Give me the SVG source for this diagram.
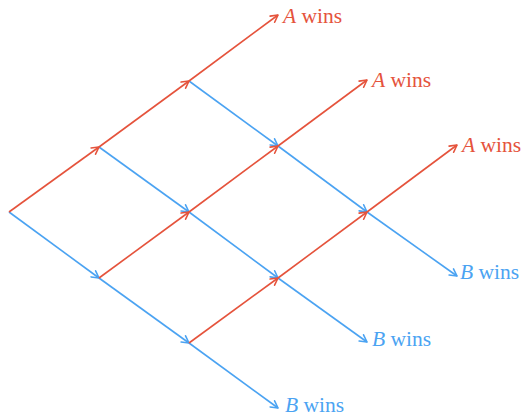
<svg xmlns="http://www.w3.org/2000/svg" width="522" height="416" viewBox="0 0 522 416">
<style>
.r{stroke:#E5533C;stroke-width:1.6;fill:none;marker-end:url(#ar)}
.b{stroke:#4BA3F2;stroke-width:1.6;fill:none;marker-end:url(#ab)}
text{font-family:'Liberation Serif','Times New Roman',serif;font-size:21.5px}
.tr{fill:#E5533C}
.tb{fill:#4BA3F2}
.i{font-style:italic}
</style>
<defs>
<marker id="ar" markerWidth="12" markerHeight="12" refX="0" refY="0" viewBox="-10 -6 12 12" orient="auto" markerUnits="userSpaceOnUse">
<path d="M-7,-3.8 L0,0 L-7,3.8" fill="none" stroke="#E5533C" stroke-width="1.6" stroke-linecap="round" stroke-linejoin="round"/>
</marker>
<marker id="ab" markerWidth="12" markerHeight="12" refX="0" refY="0" viewBox="-10 -6 12 12" orient="auto" markerUnits="userSpaceOnUse">
<path d="M-7,-3.8 L0,0 L-7,3.8" fill="none" stroke="#4BA3F2" stroke-width="1.6" stroke-linecap="round" stroke-linejoin="round"/>
</marker>
</defs>
<g id="connectors">
<line class="b" x1="9" y1="212" x2="99" y2="278"/>
<line class="b" x1="99" y1="278" x2="189" y2="343"/>
<line class="b" x1="189" y1="343" x2="278" y2="408"/>
<line class="b" x1="99" y1="147" x2="189" y2="212"/>
<line class="b" x1="189" y1="212" x2="278" y2="278"/>
<line class="b" x1="278" y1="278" x2="367" y2="342"/>
<line class="b" x1="189" y1="81" x2="278" y2="146"/>
<line class="b" x1="278" y1="146" x2="367" y2="212"/>
<line class="b" x1="367" y1="212" x2="457" y2="276"/>
<line class="r" x1="9" y1="212" x2="99" y2="147"/>
<line class="r" x1="99" y1="147" x2="189" y2="81"/>
<line class="r" x1="189" y1="81" x2="278" y2="15"/>
<line class="r" x1="99" y1="278" x2="189" y2="212"/>
<line class="r" x1="189" y1="212" x2="278" y2="146"/>
<line class="r" x1="278" y1="146" x2="367" y2="80"/>
<line class="r" x1="189" y1="343" x2="278" y2="278"/>
<line class="r" x1="278" y1="278" x2="367" y2="212"/>
<line class="r" x1="367" y1="212" x2="457" y2="145"/>
</g>
<g id="a1"><text class="tr" x="283" y="23"><tspan class="i">A</tspan> wins</text></g>
<g id="a2"><text class="tr" x="372" y="87"><tspan class="i">A</tspan> wins</text></g>
<g id="a3"><text class="tr" x="462" y="152"><tspan class="i">A</tspan> wins</text></g>
<g id="b1"><text class="tb" x="460" y="279"><tspan class="i">B</tspan> wins</text></g>
<g id="b2"><text class="tb" x="372" y="346"><tspan class="i">B</tspan> wins</text></g>
<g id="b3"><text class="tb" x="285" y="412"><tspan class="i">B</tspan> wins</text></g>
</svg>
